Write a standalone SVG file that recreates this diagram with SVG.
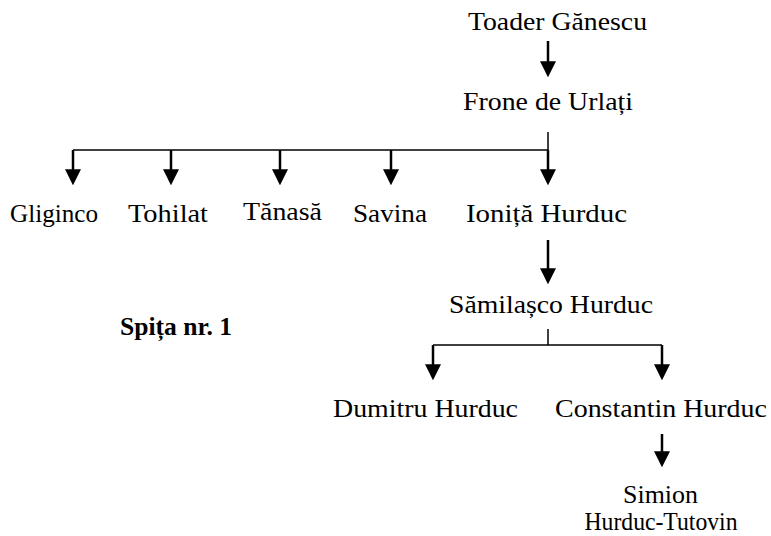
<svg xmlns="http://www.w3.org/2000/svg" width="771" height="536" viewBox="0 0 771 536">
<style>
  text { font-family: "Liberation Serif", "Times New Roman", serif; font-size: 26px; fill: #000; text-anchor: middle; }
  .bold { font-weight: bold; }
  .stem { stroke: #000; stroke-width: 2.5; fill: none; marker-end: url(#ah); }
  .thin { stroke: #000; stroke-width: 1.5; fill: none; }
</style>
<defs>
  <marker id="ah" markerUnits="userSpaceOnUse" markerWidth="16" markerHeight="16" viewBox="0 0 15 15" refX="10" refY="7.5" orient="auto">
    <path d="M0,0 L15,7.5 L0,15 z" fill="#000"/>
  </marker>
</defs>
<rect width="771" height="536" fill="#fff"/>
<g id="connectors">
  <line class="stem" x1="548" y1="41" x2="548" y2="72"/>
  <line class="thin" x1="548" y1="132" x2="548" y2="150"/>
  <line class="thin" x1="73" y1="150" x2="548" y2="150"/>
  <line class="stem" x1="73" y1="150" x2="73" y2="180"/>
  <line class="stem" x1="171" y1="150" x2="171" y2="180"/>
  <line class="stem" x1="280" y1="150" x2="280" y2="180"/>
  <line class="stem" x1="391" y1="150" x2="391" y2="180"/>
  <line class="stem" x1="548" y1="150" x2="548" y2="180"/>
  <line class="stem" x1="548" y1="240" x2="548" y2="279"/>
  <line class="thin" x1="548" y1="329" x2="548" y2="345"/>
  <line class="thin" x1="433" y1="345" x2="662" y2="345"/>
  <line class="stem" x1="433" y1="345" x2="433" y2="375"/>
  <line class="stem" x1="662" y1="345" x2="662" y2="375"/>
  <line class="stem" x1="662" y1="434" x2="662" y2="462"/>
</g>
<g id="n-toader"><text x="557.5" y="30" textLength="179" lengthAdjust="spacingAndGlyphs">Toader Gănescu</text></g>
<g id="n-frone"><text x="548" y="110" textLength="170" lengthAdjust="spacingAndGlyphs">Frone de Urlați</text></g>
<g id="n-gliginco"><text x="54" y="222" textLength="88" lengthAdjust="spacingAndGlyphs">Gliginco</text></g>
<g id="n-tohilat"><text x="168" y="222" textLength="80" lengthAdjust="spacingAndGlyphs">Tohilat</text></g>
<g id="n-tanasa"><text x="282.5" y="220" textLength="79" lengthAdjust="spacingAndGlyphs">Tănasă</text></g>
<g id="n-savina"><text x="390" y="222" textLength="74" lengthAdjust="spacingAndGlyphs">Savina</text></g>
<g id="n-ionita"><text x="546.5" y="222" textLength="161" lengthAdjust="spacingAndGlyphs">Ioniță Hurduc</text></g>
<g id="n-samilasco"><text x="551" y="313" textLength="204" lengthAdjust="spacingAndGlyphs">Sămilașco Hurduc</text></g>
<g id="n-dumitru"><text x="425.5" y="417" textLength="185" lengthAdjust="spacingAndGlyphs">Dumitru Hurduc</text></g>
<g id="n-constantin"><text x="661" y="417" textLength="212" lengthAdjust="spacingAndGlyphs">Constantin Hurduc</text></g>
<g id="n-simion">
  <text x="660.5" y="503" textLength="75" lengthAdjust="spacingAndGlyphs">Simion</text>
  <text x="661" y="530" textLength="153" lengthAdjust="spacingAndGlyphs">Hurduc-Tutovin</text>
</g>
<g id="n-title"><text class="bold" x="176" y="335" textLength="112" lengthAdjust="spacingAndGlyphs">Spița nr. 1</text></g>
</svg>
